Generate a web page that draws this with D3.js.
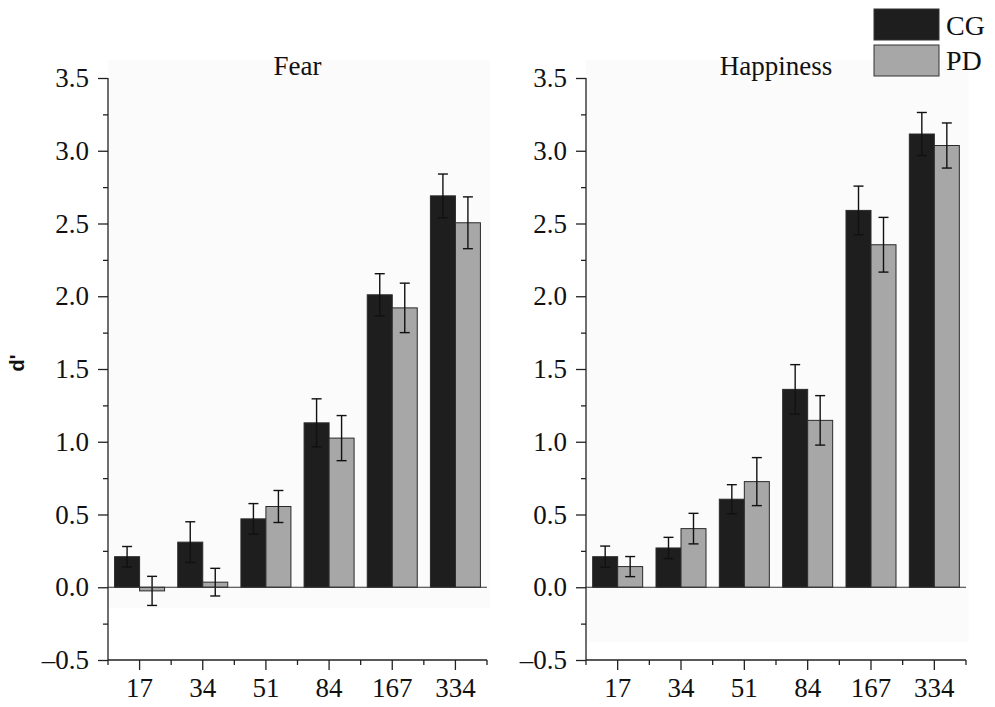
<!DOCTYPE html>
<html>
<head>
<meta charset="utf-8">
<script src="https://cdn.jsdelivr.net/npm/d3@7"></script>
<style>
  html, body { margin: 0; padding: 0; background: #ffffff; }
  svg { display: block; }
</style>
</head>
<body>
<svg id="chart" width="995" height="707"></svg>
<script>
// ---- data ----
const categories = ["17", "34", "51", "84", "167", "334"];
const seriesNames = ["CG", "PD"];
const panelTitles = ["Fear", "Happiness"];

const fearCG     = [0.21, 0.31, 0.47, 1.13, 2.01, 2.69];
const fearCGErr  = [0.07, 0.14, 0.105, 0.165, 0.145, 0.15];
const fearPD     = [-0.025, 0.035, 0.555, 1.025, 1.92, 2.505];
const fearPDErr  = [0.10, 0.095, 0.11, 0.155, 0.17, 0.178];

const happyCG    = [0.21, 0.27, 0.605, 1.36, 2.59, 3.115];
const happyCGErr = [0.073, 0.073, 0.10, 0.17, 0.167, 0.148];
const happyPD    = [0.142, 0.403, 0.726, 1.147, 2.354, 3.036];
const happyPDErr = [0.069, 0.105, 0.165, 0.17, 0.188, 0.155];

const yTicks = [-0.5, 0.0, 0.5, 1.0, 1.5, 2.0, 2.5, 3.0, 3.5];
const yMinorTicks = [-0.25, 0.25, 0.75, 1.25, 1.75, 2.25, 2.75, 3.25];
const yDomain = [-0.5, 3.5];

const colors = { CG: "#1e1e1e", PD: "#a7a7a7" };

const panels = [
  { title: panelTitles[0], CG: fearCG, CGErr: fearCGErr, PD: fearPD, PDErr: fearPDErr,
    x0: 108, x1: 487, bgBottom: 608 },
  { title: panelTitles[1], CG: happyCG, CGErr: happyCGErr, PD: happyPD, PDErr: happyPDErr,
    x0: 586, x1: 966, bgBottom: 642 }
];

const svg = d3.select("#chart");
const plotTop = 78, plotBottom = 660;
const serif = "'Liberation Serif', 'Times New Roman', serif";

const y = d3.scaleLinear().domain(yDomain).range([plotBottom, plotTop]);

panels.forEach(p => {
  const g = svg.append("g");
  const x = d3.scaleBand().domain(categories).range([p.x0, p.x1]).padding(0);
  const barW = 25;
  const inner = d3.scaleBand().domain(seriesNames).range([0, barW * 2]).padding(0);

  // faint background
  g.append("rect")
    .attr("x", p.x0).attr("y", 60)
    .attr("width", p.x1 - p.x0 + 3).attr("height", p.bgBottom - 60)
    .attr("fill", "#fbfbfb");

  // bars
  categories.forEach((c, i) => {
    const cx = x(c) + x.bandwidth() / 2;
    seriesNames.forEach(s => {
      const v = p[s][i], e = p[s + "Err"][i];
      const bx = cx - barW + inner(s);
      g.append("rect")
        .attr("x", bx)
        .attr("y", Math.min(y(v), y(0)))
        .attr("width", inner.bandwidth())
        .attr("height", Math.abs(y(v) - y(0)))
        .attr("fill", colors[s])
        .attr("stroke", "#2a2a2a")
        .attr("stroke-width", 1);
      const ex = bx + inner.bandwidth() / 2;
      const eg = g.append("g").attr("stroke", "#111").attr("stroke-width", 1.4);
      eg.append("line").attr("x1", ex).attr("x2", ex).attr("y1", y(v + e)).attr("y2", y(v - e));
      eg.append("line").attr("x1", ex - 5).attr("x2", ex + 5).attr("y1", y(v + e)).attr("y2", y(v + e));
      eg.append("line").attr("x1", ex - 5).attr("x2", ex + 5).attr("y1", y(v - e)).attr("y2", y(v - e));
    });
  });

  // zero line
  g.append("line")
    .attr("x1", p.x0).attr("x2", p.x1)
    .attr("y1", y(0)).attr("y2", y(0))
    .attr("stroke", "#333").attr("stroke-width", 1);

  // y axis
  const yAxis = d3.axisLeft(y).tickValues(yTicks).tickFormat(d3.format(".1f")).tickSize(10).tickPadding(9);
  const ya = g.append("g").attr("transform", `translate(${p.x0},0)`).call(yAxis);
  ya.select(".domain").remove();
  ya.append("line").attr("x1", 0).attr("x2", 0).attr("y1", plotTop).attr("y2", plotBottom)
    .attr("stroke", "#222").attr("stroke-width", 1.3);
  ya.selectAll(".tick line").attr("stroke", "#222").attr("stroke-width", 1.3);
  ya.selectAll(".tick text")
    .attr("font-family", serif).attr("font-size", 27).attr("fill", "#111")
    .text(d => d < 0 ? "\u2013" + Math.abs(d).toFixed(1) : d.toFixed(1));
  const yMinor = d3.axisLeft(y).tickValues(yMinorTicks).tickSize(5).tickFormat("");
  const ym = g.append("g").attr("transform", `translate(${p.x0},0)`).call(yMinor);
  ym.select(".domain").remove();
  ym.selectAll(".tick line").attr("stroke", "#222").attr("stroke-width", 1.3);

  // x axis
  const xAxis = d3.axisBottom(x).tickSize(10).tickPadding(8);
  const xa = g.append("g").attr("transform", `translate(0,${plotBottom})`).call(xAxis);
  xa.select(".domain").remove();
  xa.append("line").attr("x1", p.x0).attr("x2", p.x1).attr("y1", 0).attr("y2", 0)
    .attr("stroke", "#222").attr("stroke-width", 1.3);
  xa.selectAll(".tick line").attr("stroke", "#222").attr("stroke-width", 1.3);
  xa.selectAll(".tick text").attr("font-family", serif).attr("font-size", 27).attr("fill", "#111");
  // minor ticks at band boundaries
  const bounds = categories.map(c => x(c)).concat([p.x1]);
  xa.selectAll(".minor").data(bounds).enter().append("line")
    .attr("x1", d => d).attr("x2", d => d).attr("y1", 0).attr("y2", 5)
    .attr("stroke", "#222").attr("stroke-width", 1.3);

  // title
  g.append("text")
    .attr("x", (p.x0 + p.x1) / 2)
    .attr("y", 75)
    .attr("text-anchor", "middle")
    .attr("font-family", serif).attr("font-size", 27).attr("fill", "#111")
    .text(p.title);
});

// y label
svg.append("text")
  .attr("transform", "translate(24,363) rotate(-90)")
  .attr("text-anchor", "middle")
  .attr("font-family", "'Liberation Sans', Arial, sans-serif")
  .attr("font-weight", "bold").attr("font-size", 20).attr("fill", "#111")
  .text("d'");

// legend
const legend = svg.append("g");
seriesNames.forEach((s, i) => {
  legend.append("rect")
    .attr("x", 874).attr("y", 9 + i * 36)
    .attr("width", 65).attr("height", 31)
    .attr("fill", colors[s]).attr("stroke", "#333").attr("stroke-width", 1);
  legend.append("text")
    .attr("x", 946).attr("y", 35 + i * 35)
    .attr("font-family", serif).attr("font-size", 28).attr("fill", "#111")
    .text(s);
});
</script>
</body>
</html>
